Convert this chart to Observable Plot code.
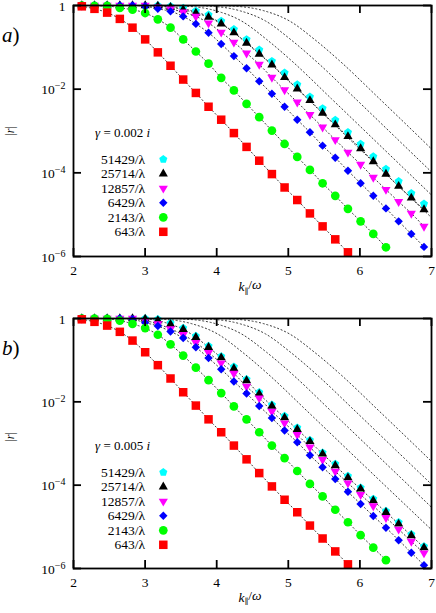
<!DOCTYPE html>
<html><head><meta charset="utf-8">
<script src="https://cdn.jsdelivr.net/npm/d3@7"></script>
<script src="https://cdn.jsdelivr.net/npm/@observablehq/plot@0.6"></script>
<style>
html,body{margin:0;padding:0;background:#fff;}
#root{position:relative;width:436px;height:613px;overflow:hidden;font-family:'Liberation Serif','DejaVu Serif',serif;}
.panel{position:absolute;left:0;}
#root svg text, #root svg tspan{font-family:'Liberation Serif','DejaVu Serif',serif !important;}
</style></head><body><div id="root"></div>
<script>
// k_parallel / omega sample positions
const kValues = [2.116,2.293,2.470,2.647,2.824,3.001,3.178,3.355,3.532,3.709,3.886,4.063,4.240,4.417,4.594,4.771,4.948,5.125,5.302,5.479,5.656,5.833,6.010,6.187,6.364,6.541,6.718,6.895];
const seriesNames = ["51429/λ","25714/λ","12857/λ","6429/λ","2143/λ","643/λ"];
const seriesColors = ["#00ffff","#000000","#ff00ff","#0000ff","#00ff00","#ff0000"];
const xTicks = [2,3,4,5,6,7];
const yTicks = [1,1e-2,1e-4,1e-6];
const yTickLabels = ["1","10^-2","10^-4","10^-6"];

// log10 |r|, panel a (gamma = 0.002 i)
const a51429 = [0,0,0,0,0,0,0,-0.02,-0.06,-0.13,-0.22,-0.37,-0.57,-0.81,-1.06,-1.33,-1.61,-1.89,-2.18,-2.46,-2.74,-3.03,-3.31,-3.61,-3.91,-4.20,-4.49,-4.74];
const a25714 = [0,0,0,0,0,0,-0.01,-0.04,-0.10,-0.18,-0.28,-0.44,-0.65,-0.90,-1.16,-1.42,-1.72,-1.99,-2.27,-2.57,-2.85,-3.13,-3.42,-3.73,-4.03,-4.32,-4.60,-4.88];
const a12857 = [0,0,0,0,0,0,-0.04,-0.08,-0.16,-0.26,-0.42,-0.64,-0.88,-1.14,-1.41,-1.72,-2.02,-2.31,-2.61,-2.91,-3.21,-3.51,-3.80,-4.11,-4.40,-4.69,-4.97,-5.28];
const a6429  = [0,0,0,0,0,-0.02,-0.08,-0.14,-0.26,-0.44,-0.65,-0.92,-1.21,-1.50,-1.81,-2.11,-2.42,-2.73,-3.03,-3.35,-3.64,-3.95,-4.25,-4.55,-4.85,-5.16,-5.46,-5.77];
const a2143  = [0,-0.01,-0.01,-0.06,-0.10,-0.18,-0.33,-0.53,-0.81,-1.10,-1.39,-1.73,-2.03,-2.35,-2.67,-2.99,-3.31,-3.62,-3.93,-4.25,-4.55,-4.86,-5.16,-5.46,-5.78];
const a643   = [-0.02,-0.08,-0.17,-0.32,-0.53,-0.81,-1.12,-1.44,-1.77,-2.09,-2.42,-2.73,-3.05,-3.38,-3.71,-4.03,-4.35,-4.65,-4.97,-5.28,-5.59,-5.90];

// log10 |r|, panel b (gamma = 0.005 i)
const b51429 = [0,0,0,0,0,0,-0.02,-0.11,-0.23,-0.42,-0.66,-0.91,-1.16,-1.46,-1.77,-2.07,-2.34,-2.62,-2.92,-3.22,-3.49,-3.78,-4.06,-4.33,-4.62,-4.89,-5.18,-5.47];
const b25714 = [0,0,0,0,0,-0.01,-0.05,-0.14,-0.26,-0.45,-0.69,-0.94,-1.20,-1.49,-1.81,-2.10,-2.38,-2.66,-2.95,-3.25,-3.53,-3.82,-4.09,-4.37,-4.65,-4.93,-5.21,-5.50];
const b12857 = [0,0,0,0,0,-0.05,-0.13,-0.25,-0.39,-0.58,-0.82,-1.07,-1.32,-1.63,-1.91,-2.23,-2.51,-2.79,-3.09,-3.39,-3.67,-3.95,-4.23,-4.50,-4.78,-5.06,-5.35,-5.63];
const b6429  = [0,0,0,0,-0.02,-0.10,-0.18,-0.31,-0.47,-0.69,-0.95,-1.22,-1.51,-1.80,-2.10,-2.39,-2.69,-2.97,-3.28,-3.57,-3.85,-4.16,-4.45,-4.74,-5.02,-5.32,-5.62,-5.92];
const b2143  = [0,0,-0.01,-0.05,-0.13,-0.23,-0.39,-0.62,-0.89,-1.18,-1.48,-1.79,-2.11,-2.42,-2.73,-3.05,-3.35,-3.66,-3.97,-4.27,-4.59,-4.89,-5.20,-5.50,-5.80];
const b643   = [-0.02,-0.08,-0.17,-0.32,-0.53,-0.81,-1.12,-1.44,-1.77,-2.09,-2.42,-2.73,-3.05,-3.38,-3.71,-4.03,-4.35,-4.65,-4.97,-5.28,-5.59,-5.90];

// extra dotted reference curves (k, log10 |r|), same in both panels
const e1K = [2,2.894,3.299,3.662,4.011,4.360,4.709,5.268,5.827,7.0];
const e2K = [2,3.229,3.634,3.997,4.346,4.696,5.045,5.603,6.162,7.0];
const e3K = [2,3.564,3.969,4.332,4.682,5.031,5.380,5.939,6.497,7.0];
const e4K = [2,3.899,4.304,4.668,5.017,5.366,5.715,6.274,6.832,7.0];
const e1V = [0,0,-0.024,-0.13,-0.37,-0.81,-1.32,-2.23,-3.15,-5.07];
const e2V = [0,0,-0.024,-0.13,-0.37,-0.81,-1.32,-2.23,-3.15,-4.53];
const e3V = [0,0,-0.024,-0.13,-0.37,-0.81,-1.32,-2.23,-3.15,-3.98];
const e4V = [0,0,-0.024,-0.13,-0.37,-0.81,-1.32,-2.23,-3.15,-3.43];

// symbols
const triDown = {draw(c, size){ const y = -Math.sqrt(size/(3*Math.sqrt(3))); const s3=Math.sqrt(3); c.moveTo(0,-2*y); c.lineTo(-s3*y, y); c.lineTo(s3*y, y); c.closePath(); }};
const pentagon = {draw(c, size){ const R = Math.sqrt(size/(2.5*Math.sin(72*Math.PI/180))); for(let i=0;i<5;i++){ const a=(-90+72*i)*Math.PI/180; const px=R*Math.cos(a), py=R*Math.sin(a); if(i===0) c.moveTo(px,py); else c.lineTo(px,py);} c.closePath(); }};
const seriesSymbols = [pentagon, "triangle", triDown, "diamond2", "circle", "square"];
const seriesR = [3.7, 3.4, 3.4, 3.8, 4.35, 4.8];

const FONT = "'Liberation Serif','DejaVu Serif',serif";

function addText(svg, x, y, parts, opts={}) {
  const t = d3.select(svg).append("text").attr("x",x).attr("y",y)
    .style("font-family",FONT).attr("font-size", opts.size||13)
    .attr("text-anchor", opts.anchor||"start").attr("fill","#000");
  if (opts.transform) t.attr("transform", opts.transform);
  for (const p of parts) {
    const s = t.append("tspan").text(p.t);
    if (p.i) s.attr("font-style","italic");
    if (p.dy) s.attr("dy", p.dy);
    if (p.size) s.attr("font-size", p.size);
  }
}

function makePanel(cfg) {
  const W = 436, mL = 73, mR = 5, mT = 5;
  const plotW = W - mL - mR, plotH = cfg.height - mT - cfg.mB;
  const rowsOf = vals => vals.map((v,i) => ({k: kValues[i], r: Math.pow(10, v)}));
  const extra = [[e1K,e1V],[e2K,e2V],[e3K,e3V],[e4K,e4V]].map(([ks,vs]) => ks.map((k,i)=>({k, r: Math.pow(10, vs[i])})));
  const dash = {stroke:"#3a3a3a", strokeWidth:1, strokeDasharray:"1.2,2.6", clip:true};
  const marks = [];
  for (const e of extra) marks.push(Plot.line(e, {x:"k", y:"r", curve:"monotone-x", ...dash}));
  for (const si of [1,2,3,4,5]) marks.push(Plot.line(rowsOf(cfg.series[si]), {x:"k", y:"r", curve:"monotone-x", ...dash}));
  for (let si=0; si<6; si++) {
    marks.push(Plot.dot(rowsOf(cfg.series[si]), {x:"k", y:"r", symbol: seriesSymbols[si], r: seriesR[si], fill: seriesColors[si], stroke: "none"}));
  }
  marks.push(Plot.frame({stroke:"#000", strokeWidth:1.8}));
  marks.push(Plot.tickY(yTicks, {y: d=>d, insetRight: plotW-8, stroke:"#000", strokeWidth:1.8}));
  marks.push(Plot.tickY(yTicks, {y: d=>d, insetLeft: plotW-8, stroke:"#000", strokeWidth:1.8}));
  marks.push(Plot.tickX(xTicks, {x: d=>d, insetTop: plotH-8, stroke:"#000", strokeWidth:1.8}));
  marks.push(Plot.tickX(xTicks, {x: d=>d, insetBottom: plotH-8, stroke:"#000", strokeWidth:1.8}));
  marks.push(Plot.text(yTicks, {x: ()=>2, y: d=>d, text: (d,i)=>yTickLabels[i], dx:-8, dy:1, textAnchor:"end", fontSize:13.5, fill:"#000"}));
  marks.push(Plot.text(xTicks, {x: d=>d, y: ()=>1e-6, text: d=>String(d), dy:14, fontSize:13.5, fill:"#000"}));

  const svg = Plot.plot({
    width: W, height: cfg.height,
    marginLeft: mL, marginRight: mR, marginTop: mT, marginBottom: cfg.mB,
    x: {domain:[2,7], axis:null},
    y: {type:"log", domain:[1e-6,1], axis:null},
    style: {fontFamily: FONT, fontSize:"13px", background:"none", overflow:"visible"},
    marks
  });
  d3.select(svg).selectAll("text").each(function(){
    const m = /^10\^(-?\d+)$/.exec(this.textContent);
    if (m) {
      const sel = d3.select(this); sel.text(null);
      sel.append("tspan").text("10");
      sel.append("tspan").attr("dy","-0.5em").attr("font-size","10px").text(m[1].replace("-","\u2212"));
    }
  });
  const top = mT, bottom = mT + plotH;
  addText(svg, 2, top+37, [{t:cfg.label, i:1},{t:")"}], {size:21});
  addText(svg, 0, 0, [{t:"|"},{t:"r",i:1},{t:"|"}], {size:12, anchor:"middle", transform:`translate(14,${top+cfg.yLab}) rotate(-90)`});
  addText(svg, 250, bottom+cfg.xLab, [{t:"k",i:1},{t:"\u2225",size:8,dy:"0.35em"},{t:"/",dy:"-0.35em"},{t:"\u03c9",i:1}], {size:13.5, anchor:"middle"});
  addText(svg, 95, top+132, [{t:"\u03b3",i:1},{t:" = " + cfg.gamma + " "},{t:"i",i:1}], {size:13});
  const g = d3.select(svg).append("g");
  for (let si=0; si<6; si++) {
    const cy = top + 154.3 + 14.5*si;
    addText(svg, 145, cy+4.5, [{t:seriesNames[si]}], {size:13.5, anchor:"end"});
    const sym = typeof seriesSymbols[si] === "string" ? {"triangle":d3.symbolTriangle,"diamond2":d3.symbolDiamond2,"circle":d3.symbolCircle,"square":d3.symbolSquare}[seriesSymbols[si]] : seriesSymbols[si];
    g.append("path").attr("d", d3.symbol().type(sym).size(Math.PI*seriesR[si]*seriesR[si])())
      .attr("transform",`translate(163.3,${cy})`).attr("fill", seriesColors[si]);
  }
  return svg;
}

const root = document.getElementById("root");
const pa = makePanel({label:"a", gamma:"0.002", height:305, mB:49, yLab:126, xLab:35,
  series:[a51429,a25714,a12857,a6429,a2143,a643]});
const pb = makePanel({label:"b", gamma:"0.005", height:300, mB:45, yLab:119, xLab:33.5,
  series:[b51429,b25714,b12857,b6429,b2143,b643]});
const da = document.createElement("div"); da.className="panel"; da.style.top="0px"; da.appendChild(pa);
const db = document.createElement("div"); db.className="panel"; db.style.top="313px"; db.appendChild(pb);
root.appendChild(da); root.appendChild(db);
</script></body></html>
